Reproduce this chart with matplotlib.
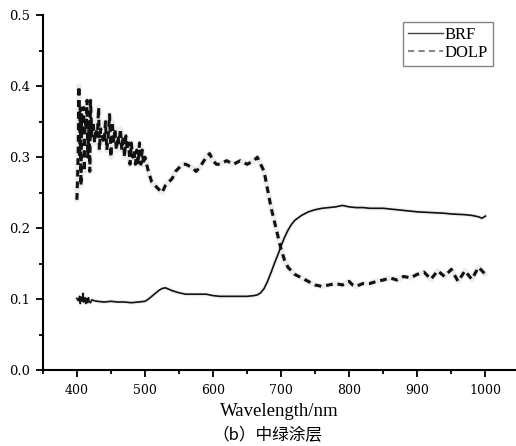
import matplotlib.pyplot as plt
from matplotlib.lines import Line2D
from matplotlib.ticker import MultipleLocator

# BRF curve (wavelength nm, value)
brf_wl = [400, 402, 404, 405, 406, 408, 409, 410, 412, 413, 414, 416, 417, 418, 420, 422,
          425, 430, 440, 450, 460, 470, 480, 490, 500, 505, 510, 515, 520, 525, 530,
          535, 540, 550, 560, 570, 580, 590, 600, 610, 620, 630, 640, 650, 660, 665,
          670, 675, 680, 685, 690, 695, 700, 705, 710, 715, 720, 730, 740, 750, 760,
          770, 780, 790, 800, 810, 820, 830, 850, 870, 890, 900, 920, 940, 950, 970,
          980, 990, 995, 1000]
brf = [0.101, 0.098, 0.104, 0.094, 0.103, 0.097, 0.108, 0.096, 0.102, 0.094, 0.101,
       0.095, 0.102, 0.097, 0.095, 0.099, 0.098, 0.097, 0.096, 0.097, 0.096, 0.096,
       0.095, 0.096, 0.097, 0.100, 0.104, 0.108, 0.112, 0.115, 0.116, 0.114, 0.112,
       0.109, 0.107, 0.107, 0.107, 0.107, 0.105, 0.104, 0.104, 0.104, 0.104, 0.104,
       0.105, 0.106, 0.109, 0.115, 0.125, 0.137, 0.150, 0.162, 0.175, 0.187, 0.197,
       0.205, 0.211, 0.218, 0.223, 0.226, 0.228, 0.229, 0.230, 0.232, 0.230, 0.229,
       0.229, 0.228, 0.228, 0.226, 0.224, 0.223, 0.222, 0.221, 0.220, 0.219, 0.218,
       0.216, 0.214, 0.217]

# DOLP curve (wavelength nm, value)
dolp_wl = [400, 401, 402, 403, 404, 405, 406, 407, 408, 410, 411, 412, 414, 415, 416,
           418, 419, 420, 422, 424, 426, 428, 430, 432, 433, 435, 437, 440, 442, 444,
           446, 448, 450, 452, 454, 456, 458, 460, 462, 464, 466, 468, 470, 472, 474,
           476, 478, 480, 482, 484, 486, 488, 490, 492, 494, 496, 498, 500, 505, 510,
           515, 520, 525, 530, 535, 540, 545, 550, 555, 560, 570, 575, 580, 590, 595,
           600, 605, 610, 620, 630, 640, 650, 660, 665, 670, 675, 680, 685, 690, 695,
           700, 705, 710, 720, 730, 740, 750, 760, 770, 780, 790, 800, 805, 810, 820,
           830, 840, 850, 860, 870, 880, 890, 900, 910, 920, 930, 940, 950, 960, 970,
           980, 990, 1000]
dolp = [0.24, 0.27, 0.31, 0.40, 0.30, 0.37, 0.26, 0.36, 0.33, 0.37, 0.28, 0.35, 0.34,
        0.38, 0.30, 0.35, 0.28, 0.38, 0.33, 0.35, 0.32, 0.34, 0.33, 0.37, 0.31, 0.34,
        0.33, 0.32, 0.35, 0.31, 0.33, 0.36, 0.30, 0.35, 0.32, 0.34, 0.31, 0.33, 0.32,
        0.34, 0.31, 0.33, 0.30, 0.33, 0.31, 0.32, 0.29, 0.32, 0.30, 0.31, 0.29, 0.31,
        0.29, 0.32, 0.29, 0.31, 0.29, 0.30, 0.28, 0.265, 0.26, 0.255, 0.25, 0.26, 0.265,
        0.27, 0.28, 0.285, 0.29, 0.29, 0.285, 0.28, 0.285, 0.30, 0.305, 0.295, 0.29,
        0.29, 0.295, 0.29, 0.295, 0.29, 0.295, 0.30, 0.29, 0.28, 0.255, 0.23, 0.21,
        0.19, 0.17, 0.155, 0.145, 0.135, 0.13, 0.125, 0.12, 0.118, 0.12, 0.122, 0.12,
        0.125, 0.12, 0.118, 0.122, 0.122, 0.125, 0.127, 0.13, 0.127, 0.132, 0.13,
        0.135, 0.138, 0.128, 0.14, 0.132, 0.142, 0.125, 0.14, 0.128, 0.145, 0.135]

xticks = [400, 500, 600, 700, 800, 900, 1000]
yticks = [0.0, 0.1, 0.2, 0.3, 0.4, 0.5]

serif = ["Liberation Serif", "DejaVu Serif"]

fig = plt.figure(figsize=(5.16, 4.46), dpi=100)
ax = fig.add_axes([0.083, 0.170, 0.917, 0.796])

# grey halo under the curves, like the scanned figure
ax.plot(dolp_wl, dolp, color="#cccccc", lw=4, alpha=0.35, solid_capstyle="round")
ax.plot(brf_wl, brf, color="#cccccc", lw=3, alpha=0.3)
ax.plot(brf_wl, brf, color="#111111", lw=1.2)
ax.plot(dolp_wl, dolp, color="#111111", lw=2.2, linestyle=(0, (2.2, 1.6)))

ax.set_xlim(350, 1045)
ax.set_ylim(0.0, 0.5)
ax.set_xticks(xticks)
ax.set_yticks(yticks)
ax.set_yticklabels([f"{v:.1f}" for v in yticks])
ax.xaxis.set_minor_locator(MultipleLocator(50))
ax.yaxis.set_minor_locator(MultipleLocator(0.05))
ax.tick_params(which="major", direction="out", length=5, width=1.3)
ax.tick_params(axis="x", which="major", labelsize=9, pad=5)
ax.tick_params(axis="y", which="major", labelsize=9.5, pad=4)
ax.tick_params(which="minor", direction="out", length=3, width=1.3)
for lab in ax.get_xticklabels() + ax.get_yticklabels():
    lab.set_family("DejaVu Serif")

ax.spines["top"].set_visible(False)
ax.spines["right"].set_visible(False)
ax.spines["left"].set_linewidth(1.5)
ax.spines["bottom"].set_linewidth(1.5)

ax.set_xlabel("Wavelength/nm", family=serif, fontsize=13.5, labelpad=4)

handles = [Line2D([], [], color="#444444", lw=1),
           Line2D([], [], color="#888888", lw=1.5, linestyle=(0, (3, 2)))]
leg = ax.legend(handles, ["BRF", "DOLP"], loc="upper right",
                bbox_to_anchor=(0.951, 0.98), prop={"family": serif, "size": 12},
                frameon=True, fancybox=False, handlelength=2.1, handletextpad=0.1,
                borderpad=0.3, labelspacing=0.1, borderaxespad=0)
leg.get_frame().set_edgecolor("#666666")
leg.get_frame().set_linewidth(1)

fig.text(0.518, 0.023, "（b）中绿涂层", ha="center", va="center", fontsize=12,
         family=["Noto Sans CJK SC", "DejaVu Sans"])

fig.savefig("out.png", dpi=100)
